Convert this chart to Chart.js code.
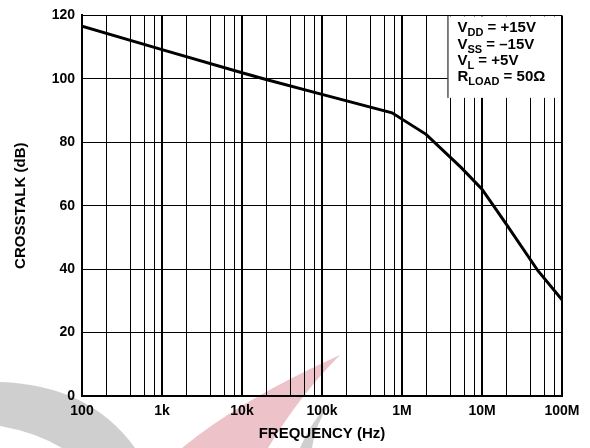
<!DOCTYPE html>
<html>
<head>
<meta charset="utf-8">
<script src="https://cdn.jsdelivr.net/npm/chart.js@4/dist/chart.umd.min.js"></script>
<style>
  html, body { margin: 0; padding: 0; background: #fff; }
  canvas { display: block; }
</style>
</head>
<body>
<canvas id="chart1" width="590" height="448"></canvas>
<script>
// crosstalk vs frequency
const freqs = [100, 1000, 10000, 20000, 100000, 750000, 2e6, 5.5e6, 1e7, 2e7, 5e7, 1e8];
const crosstalk = [116.6, 109.2, 101.9, 99.8, 95.1, 89.3, 82.5, 72.0, 65.2, 54.3, 39.5, 30.3];

const decades = [100, 1e3, 1e4, 1e5, 1e6, 1e7, 1e8];
const decadeLabels = ['100', '1k', '10k', '100k', '1M', '10M', '100M'];
const minorSteps = [2, 4, 6, 8];

// conditions box: [main, subscript, rest]
const conditions = [
    ['V', 'DD', ' = +15V'],
    ['V', 'SS', ' = \u201315V'],
    ['V', 'L', ' = +5V'],
    ['R', 'LOAD', ' = 50\u03A9']
];

const FONT = '"Liberation Sans", Arial, sans-serif';

function isDecade(v) {
    return decades.some(d => Math.abs(v - d) / d < 1e-6);
}

const watermark = {
    id: 'watermark',
    beforeDraw(chart) {
        const ctx = chart.ctx;
        ctx.save();
        ctx.fillStyle = 'rgba(160,160,160,0.5)';
        ctx.beginPath();
        ctx.moveTo(0, 382);
        ctx.quadraticCurveTo(90, 385, 135, 448);
        ctx.lineTo(62, 448);
        ctx.quadraticCurveTo(35, 432, 0, 426);
        ctx.closePath();
        ctx.fill();
        ctx.beginPath();
        ctx.moveTo(330, 403);
        ctx.quadraticCurveTo(315, 425, 312, 448);
        ctx.lineTo(300, 448);
        ctx.quadraticCurveTo(312, 420, 330, 403);
        ctx.fill();
        ctx.fillStyle = 'rgba(215,120,135,0.45)';
        ctx.beginPath();
        ctx.moveTo(340, 355);
        ctx.quadraticCurveTo(240, 400, 182, 448);
        ctx.lineTo(268, 448);
        ctx.quadraticCurveTo(300, 395, 340, 355);
        ctx.closePath();
        ctx.fill();
        ctx.restore();
    }
};

const condBox = {
    id: 'condBox',
    beforeDatasetsDraw(chart) {
        const ctx = chart.ctx;
        const area = chart.chartArea;
        const xs = chart.scales.x, ys = chart.scales.y;
        const left = xs.getPixelForValue(3.7e6);
        const bottom = ys.getPixelForValue(94);
        ctx.save();
        ctx.fillStyle = '#fff';
        ctx.fillRect(left, area.top + 1, area.right - left - 1, bottom - area.top - 1);
        ctx.strokeStyle = '#000';
        ctx.lineWidth = 1;
        ctx.beginPath();
        ctx.moveTo(left + 0.5, area.top);
        ctx.lineTo(left + 0.5, bottom);
        ctx.stroke();
        ctx.fillStyle = '#000';
        ctx.textBaseline = 'alphabetic';
        conditions.forEach((c, i) => {
            let x = left + 10;
            const y = area.top + 17 + i * 16.3;
            ctx.font = 'bold 15px ' + FONT;
            ctx.fillText(c[0], x, y);
            x += ctx.measureText(c[0]).width;
            ctx.font = 'bold 11px ' + FONT;
            ctx.fillText(c[1], x, y + 4);
            x += ctx.measureText(c[1]).width;
            ctx.font = 'bold 15px ' + FONT;
            ctx.fillText(c[2], x, y);
        });
        ctx.restore();
    }
};

const ctx = document.getElementById('chart1').getContext('2d');
const chart1 = new Chart(ctx, {
    type: 'line',
    data: {
        datasets: [{
            data: freqs.map((f, i) => ({ x: f, y: crosstalk[i] })),
            borderColor: '#000',
            borderWidth: 3,
            pointRadius: 0,
            tension: 0,
            fill: false
        }]
    },
    options: {
        responsive: false,
        animation: false,
        layout: { padding: { left: 0, right: 28, top: 14, bottom: 0 } },
        plugins: {
            legend: { display: false },
            tooltip: { enabled: false }
        },
        scales: {
            x: {
                type: 'logarithmic',
                min: 100,
                max: 1e8,
                afterBuildTicks(scale) {
                    const t = [];
                    decades.forEach((d, i) => {
                        t.push({ value: d });
                        if (i < decades.length - 1) {
                            minorSteps.forEach(m => t.push({ value: d * m }));
                        }
                    });
                    scale.ticks = t;
                },
                afterFit(scale) { scale.height = 52; },
                grid: {
                    color: '#000',
                    drawTicks: false,
                    lineWidth: c => (c.tick && isDecade(c.tick.value)) ? 2 : 1
                },
                border: { color: '#000', width: 2 },
                ticks: {
                    autoSkip: false,
                    maxRotation: 0,
                    padding: 7,
                    color: '#000',
                    font: { family: FONT, size: 14, weight: 'bold' },
                    callback: v => {
                        const i = decades.findIndex(d => Math.abs(v - d) / d < 1e-6);
                        return i >= 0 ? decadeLabels[i] : '';
                    }
                },
                title: {
                    display: true,
                    text: 'FREQUENCY (Hz)',
                    color: '#000',
                    padding: { top: 0, bottom: 5 },
                    font: { family: FONT, size: 15, weight: 'bold' }
                }
            },
            y: {
                min: 0,
                max: 120,
                afterFit(scale) { scale.width = 82; },
                grid: { color: '#000', drawTicks: false, lineWidth: 1 },
                border: { color: '#000', width: 2 },
                ticks: {
                    stepSize: 20,
                    padding: 7,
                    color: '#000',
                    font: { family: FONT, size: 14, weight: 'bold' }
                },
                title: {
                    display: true,
                    text: 'CROSSTALK (dB)',
                    color: '#000',
                    padding: { top: 12, bottom: 0 },
                    font: { family: FONT, size: 15, weight: 'bold' }
                }
            }
        }
    },
    plugins: [watermark, condBox]
});
</script>
</body>
</html>
